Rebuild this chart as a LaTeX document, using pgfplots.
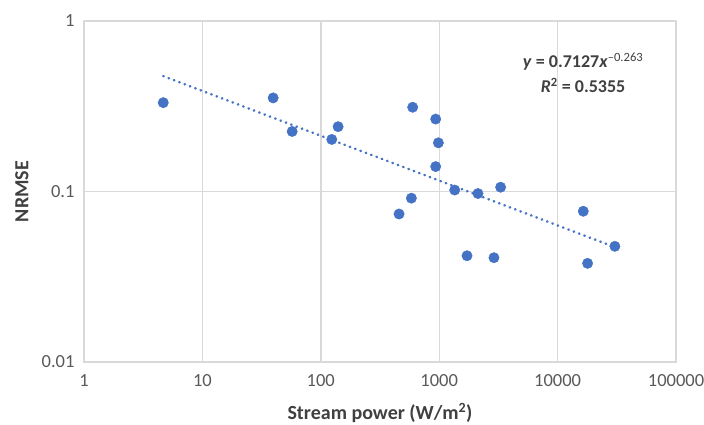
\documentclass[border=0pt]{standalone}
\usepackage{fontspec}
\setmainfont{Carlito}
\usepackage{pgfplots}
\pgfplotsset{compat=1.18}
\definecolor{ptblue}{HTML}{4472C4}
\definecolor{gridgray}{HTML}{D9D9D9}
\definecolor{ticktxt}{HTML}{595959}
\definecolor{titletxt}{HTML}{404040}

\begin{document}
\begin{tikzpicture}
\path[use as bounding box] (-84pt,-62pt) rectangle (620pt,362pt);
\begin{axis}[
  at={(0,0)}, anchor=south west,
  width=592pt, height=341pt, scale only axis,
  xmode=log, ymode=log,
  xmin=1, xmax=100000, ymin=0.01, ymax=1,
  xtick={1,10,100,1000,10000,100000},
  xticklabels={1,10,100,1000,10000,100000},
  ytick={0.01,0.1,1}, yticklabels={0.01,0.1,1},
  xminorticks=false, yminorticks=false,
  major tick length=0pt,
  grid=major,
  major grid style={draw=gridgray, line width=1.4pt},
  axis line style={draw=gridgray, line width=1.4pt},
  tick label style={font=\fontsize{18.5}{22}\selectfont, text=ticktxt},
  xticklabel style={yshift=-9pt},
  yticklabel style={xshift=-6pt},
  xlabel={Stream power (W/m\textsuperscript{2})},
  ylabel={NRMSE},
  label style={font=\bfseries\fontsize{20}{24}\selectfont, text=titletxt},
  xlabel style={at={(axis description cs:0.5,-0.170)}, anchor=base},
  ylabel style={at={(axis description cs:-0.105,0.5)}, anchor=center},
  clip=false,
]
% power trendline
\addplot[ptblue, line width=2.6pt, line cap=round, dash pattern=on 0.4pt off 5.3pt]
  coordinates {(4.67,0.475) (30460,0.0472)};
% measured points
\addplot[only marks, mark=*, mark size=5.2pt, mark options={fill=ptblue, draw=ptblue}]
  coordinates {
  (4.67,0.332) (39.6,0.354) (57.3,0.225) (123.8,0.202) (140,0.240)
  (597,0.312) (934,0.266) (984,0.193) (934,0.140) (582,0.0914)
  (458,0.0738) (1352,0.102) (2125,0.0973) (3303,0.106) (1718,0.0420)
  (2900,0.0409) (16480,0.0766) (30460,0.0477) (17920,0.0379)
  };
\node[align=center, text=titletxt, font=\bfseries\fontsize{18}{25}\selectfont]
  at (rel axis cs:0.843,0.849)
  {\textit{y} = 0.7127\textit{x}\textsuperscript{\mdseries\textendash 0.263}\\ \textit{R}\textsuperscript{2} = 0.5355};
\end{axis}
\end{tikzpicture}
\end{document}
